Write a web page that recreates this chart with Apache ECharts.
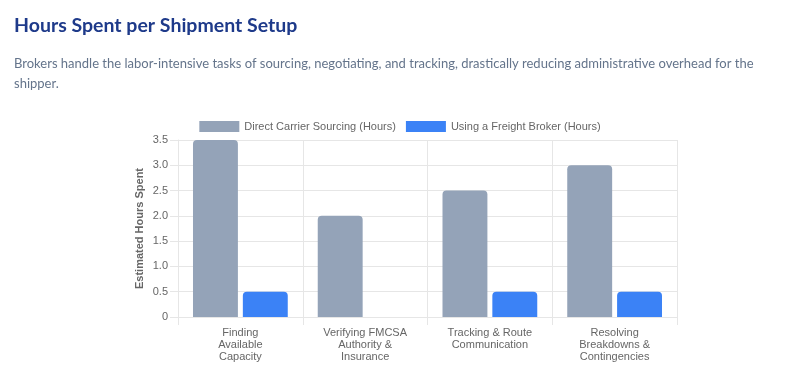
<!DOCTYPE html>
<html>
<head>
<meta charset="utf-8">
<script src="https://cdn.jsdelivr.net/npm/echarts@6/dist/echarts.min.js"></script>
<style>
html,body{margin:0;padding:0;background:#fff;}
#chart{width:800px;height:378px;}
</style>
</head>
<body>
<div id="chart"></div>
<script>
const titleText = 'Hours Spent per Shipment Setup';
const subtitleText = 'Brokers handle the labor-intensive tasks of sourcing, negotiating, and tracking, drastically reducing administrative overhead for the\nshipper.';
const categories = ['Finding\nAvailable\nCapacity', 'Verifying FMCSA\nAuthority &\nInsurance', 'Tracking & Route\nCommunication', 'Resolving\nBreakdowns &\nContingencies'];
const seriesNames = ['Direct Carrier Sourcing (Hours)', 'Using a Freight Broker (Hours)'];
const directValues = [3.5, 2.0, 2.5, 3.0];
const brokerValues = [0.5, 0, 0.5, 0.5];
const yAxisName = 'Estimated Hours Spent';

const chart = echarts.init(document.getElementById('chart'), null, {renderer: 'canvas'});
const gridColor = '#e6e6e6';
const labelColor = '#666666';
const chartFont = '"Liberation Sans", Arial, sans-serif';
chart.setOption({
  backgroundColor: '#ffffff',
  animation: false,
  title: [
    {text: titleText, left: 9, top: 11,
     textStyle: {fontFamily: 'Lato, sans-serif', fontSize: 19.5, fontWeight: 'bold', color: '#1e3a8a'}},
    {text: subtitleText, left: 9, top: 49,
     textStyle: {fontFamily: 'Lato, sans-serif', fontSize: 13, fontWeight: 'normal', color: '#64748b', lineHeight: 20}}
  ],
  legend: {
    top: 116, left: 'center',
    itemWidth: 40, itemHeight: 11, itemGap: 10,
    textStyle: {fontFamily: chartFont, fontSize: 11, color: labelColor},
    icon: 'rect'
  },
  grid: {left: 178, right: 123, top: 140, bottom: 61, containLabel: false},
  xAxis: {
    type: 'category', data: categories,
    axisLine: {show: true, lineStyle: {color: gridColor}},
    axisTick: {show: true, length: 8, lineStyle: {color: gridColor}},
    splitLine: {show: true, lineStyle: {color: gridColor}},
    axisLabel: {fontFamily: chartFont, fontSize: 11, color: labelColor, lineHeight: 12, margin: 10, interval: 0}
  },
  yAxis: {
    type: 'value', min: 0, max: 3.5, interval: 0.5,
    name: yAxisName, nameLocation: 'middle', nameGap: 33, nameMoveOverlap: false,
    nameTextStyle: {fontFamily: chartFont, fontSize: 11, fontWeight: 'bold', color: labelColor},
    axisLine: {show: true, lineStyle: {color: gridColor}},
    axisTick: {show: true, length: 8, lineStyle: {color: gridColor}},
    splitLine: {show: true, lineStyle: {color: gridColor}},
    axisLabel: {fontFamily: chartFont, fontSize: 11, color: labelColor, margin: 10,
      formatter: v => v === 0 ? '0' : v.toFixed(1)}
  },
  series: [
    {name: seriesNames[0], type: 'bar', data: directValues, barWidth: '36%', barGap: '11%',
     itemStyle: {color: '#94a3b8', borderRadius: [4, 4, 0, 0]}},
    {name: seriesNames[1], type: 'bar', data: brokerValues, barWidth: '36%', barGap: '11%',
     itemStyle: {color: '#3b82f6', borderRadius: [4, 4, 0, 0]}}
  ]
});
</script>
</body>
</html>
